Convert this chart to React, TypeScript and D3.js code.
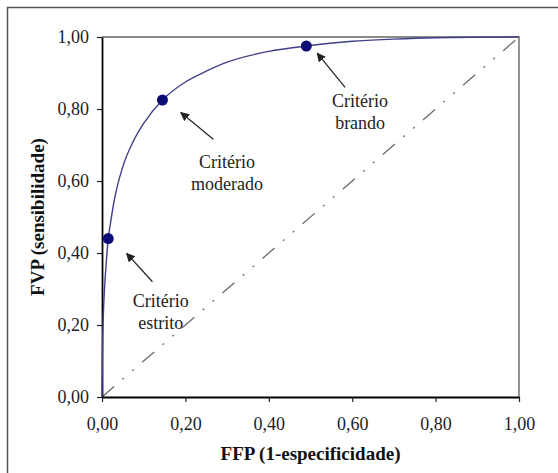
import * as d3 from "d3";
import { useEffect, useRef } from "react";

// ROC curve (FFP, FVP)
const fpr = [0, 0.001, 0.003, 0.006, 0.01, 0.015, 0.02, 0.03, 0.05, 0.075, 0.1, 0.145, 0.2, 0.25, 0.3, 0.4, 0.49, 0.6, 0.7, 0.8, 0.9, 1];
const tpr = [0, 0.12, 0.22, 0.3, 0.37, 0.44, 0.48, 0.55, 0.64, 0.71, 0.76, 0.825, 0.875, 0.905, 0.93, 0.96, 0.975, 0.988, 0.994, 0.998, 0.9995, 1];

// criterion points
const critFpr = [0.015, 0.145, 0.49];
const critTpr = [0.44, 0.825, 0.975];
const critNames = ["estrito", "moderado", "brando"];

// annotation arrows (head / tail) and label anchors, in data units
const arrowHead = [[0.059, 0.399], [0.189, 0.79], [0.516, 0.955]];
const arrowTail = [[0.121, 0.32], [0.267, 0.716], [0.583, 0.86]];
const labelPos = [[0.141, 0.25], [0.3, 0.636], [0.619, 0.806]];

const ticks = [0, 0.2, 0.4, 0.6, 0.8, 1];

export default function App() {
  const ref = useRef<SVGSVGElement>(null);

  useEffect(() => {
    const W = 558, H = 473;
    const left = 102, right = 519, top = 37, bottom = 397;
    const svg = d3.select(ref.current);
    svg.selectAll("*").remove();

    const font = "'Liberation Serif', 'Times New Roman', serif";
    const fmt = (v: number) => d3.format(".2f")(v).replace(".", ",");

    const x = d3.scaleLinear().domain([0, 1]).range([left, right]);
    const y = d3.scaleLinear().domain([0, 1]).range([bottom, top]);

    // outer frame (left + top only visible)
    svg.append("path")
      .attr("d", `M7.5,${H}V7.5H${W}`)
      .attr("fill", "none").attr("stroke", "#555").attr("stroke-width", 1.5);

    // plot box top / right
    svg.append("path")
      .attr("d", `M${left},${top}H${right}V${bottom}`)
      .attr("fill", "none").attr("stroke", "#8a8a8a").attr("stroke-width", 1.8);

    // chance diagonal
    svg.append("line")
      .attr("x1", x(0)).attr("y1", y(0)).attr("x2", x(1)).attr("y2", y(1))
      .attr("stroke", "#6a6a6a").attr("stroke-width", 1.3)
      .attr("stroke-dasharray", "16,11,2,11,2,11");

    // axes
    const gy = svg.append("g").attr("transform", `translate(${left},0)`)
      .call(d3.axisLeft(y).tickValues(ticks).tickSize(5).tickSizeOuter(0).tickFormat((d) => fmt(+d)));
    const gx = svg.append("g").attr("transform", `translate(0,${bottom})`)
      .call(d3.axisBottom(x).tickValues(ticks).tickSize(5).tickSizeOuter(0).tickFormat((d) => fmt(+d)));
    [gy, gx].forEach((g) => {
      g.select(".domain").attr("stroke", "#000").attr("stroke-width", 1.8);
      g.selectAll(".tick line").attr("stroke", "#222").attr("stroke-width", 1.2);
      g.selectAll(".tick text")
        .attr("font-family", font).attr("font-size", 18).attr("fill", "#1c1c28");
    });
    gy.selectAll(".tick text").attr("x", -13);
    gx.selectAll(".tick text").attr("y", 20);

    // ROC curve
    const pts = fpr.map((f, i) => [f, tpr[i]] as [number, number]);
    const line = d3.line<[number, number]>()
      .x((d) => x(d[0])).y((d) => y(d[1]))
      .curve(d3.curveMonotoneX);
    svg.append("path")
      .attr("d", line(pts))
      .attr("fill", "none").attr("stroke", "#40408a").attr("stroke-width", 1.4);

    // criterion dots
    svg.selectAll("circle.crit")
      .data(critFpr)
      .enter()
      .append("circle")
      .attr("class", "crit")
      .attr("cx", (d) => x(d))
      .attr("cy", (d, i) => y(critTpr[i]))
      .attr("r", 5.5)
      .attr("fill", "#0c0c78");

    // arrows
    svg.append("defs").append("marker")
      .attr("id", "ah").attr("viewBox", "0 0 10 10")
      .attr("refX", 9).attr("refY", 5)
      .attr("markerWidth", 9).attr("markerHeight", 9)
      .attr("markerUnits", "userSpaceOnUse")
      .attr("orient", "auto")
      .append("path").attr("d", "M0,0L10,5L0,10z").attr("fill", "#222");

    svg.selectAll("line.arrow")
      .data(arrowTail)
      .enter()
      .append("line")
      .attr("class", "arrow")
      .attr("x1", (d) => x(d[0])).attr("y1", (d) => y(d[1]))
      .attr("x2", (d, i) => x(arrowHead[i][0])).attr("y2", (d, i) => y(arrowHead[i][1]))
      .attr("stroke", "#2a2a2a").attr("stroke-width", 1.3)
      .attr("marker-end", "url(#ah)");

    // labels
    const lab = svg.selectAll("text.lab")
      .data(labelPos)
      .enter()
      .append("text")
      .attr("class", "lab")
      .attr("font-family", font).attr("font-size", 18)
      .attr("fill", "#222")
      .attr("text-anchor", "middle");
    lab.append("tspan")
      .attr("x", (d) => x(d[0])).attr("y", (d) => y(d[1]))
      .text("Critério");
    lab.append("tspan")
      .attr("x", (d) => x(d[0])).attr("dy", 22)
      .text((d, i) => critNames[i]);

    // axis titles
    svg.append("text")
      .attr("x", (left + right) / 2).attr("y", 460)
      .attr("text-anchor", "middle")
      .attr("font-family", font).attr("font-size", 19).attr("font-weight", "bold")
      .attr("fill", "#111")
      .text("FFP (1-especificidade)");
    svg.append("text")
      .attr("transform", `translate(44,${(top + bottom) / 2}) rotate(-90)`)
      .attr("text-anchor", "middle")
      .attr("font-family", font).attr("font-size", 19).attr("font-weight", "bold")
      .attr("fill", "#111")
      .text("FVP (sensibilidade)");
  }, []);

  return (
    <svg
      ref={ref}
      width={558}
      height={473}
      style={{ position: "absolute", left: 0, top: 0, background: "#fff" }}
    />
  );
}
